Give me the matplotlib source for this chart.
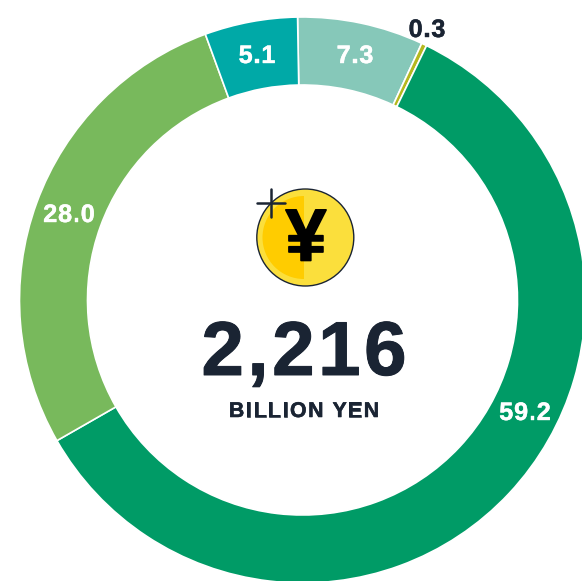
import matplotlib
matplotlib.use("Agg")
import matplotlib.pyplot as plt
import matplotlib.patheffects as pe
from matplotlib.font_manager import FontProperties
from matplotlib.patches import Circle, Wedge
from matplotlib.textpath import text_to_path

shares = [7.2, 0.3, 59.5, 27.7, 5.3]
labels = ["7.3", "0.3", "59.2", "28.0", "5.1"]
colors = ["#86c8b9", "#b5b81e", "#009b66", "#78b95c", "#00a9a7"]
label_xy = [(355, 63), (427, 37), (525, 420), (69, 222), (257, 63)]
label_colors = ["white", "#1a2433", "white", "white", "white"]
total_value = "2,216"
unit = "BILLION YEN"

W, H = 582, 581
FAMILY = "Liberation Sans"
plt.rcParams["font.family"] = [FAMILY, "DejaVu Sans"]
fig = plt.figure(figsize=(W / 100, H / 100), dpi=100)
ax = fig.add_axes([0, 0, 1, 1])
ax.pie(shares, colors=colors, startangle=91, counterclock=False,
       center=(302.5, H - 300), radius=283, normalize=True,
       wedgeprops=dict(width=68, edgecolor="white", linewidth=1.2))
ax.set_xlim(0, W)
ax.set_ylim(0, H)
ax.set_aspect("equal")
ax.axis("off")


def tracked(xc, y, s, size, track, color, stroke=0.0):
    """Draw s centred on xc with extra pixel spacing between characters."""
    prop = FontProperties(family=FAMILY, weight="bold", size=size)
    adv = lambda t: text_to_path.get_text_width_height_descent(t, prop, ismath=False)[0] * 100 / 72
    total = adv(s) + track * (len(s) - 1)
    x0 = xc - total / 2
    for i, ch in enumerate(s):
        if ch != " ":
            t = ax.text(x0 + adv(s[:i]) + track * i, H - y, ch, color=color,
                        fontproperties=prop, ha="left", va="baseline")
            if stroke:
                t.set_path_effects([pe.withStroke(linewidth=stroke, foreground=color)])


for (x, y), t, c in zip(label_xy, labels, label_colors):
    tracked(x, y, t, 18.2, 0.8, c, stroke=0.3)

tracked(304, 375, total_value, 55, 3.5, "#1a2433", stroke=0.7)
tracked(304, 417, unit, 15.3, 1.6, "#1a2433", stroke=0.4)

# coin
cx, cy = 305.3, H - 237.5
ax.add_patch(Circle((cx, cy), 48.5, fc="#fbdf3c", ec="#1a2433", lw=1.0))
ax.add_patch(Wedge((304, cy), 41.5, 90, 270, fc="#ffcc00", ec="none"))
yen = ax.text(306, H - 260.5, "¥", color="black", fontsize=53, fontweight="bold", ha="center", va="baseline")
yen.set_path_effects([pe.withStroke(linewidth=1.2, foreground="black")])
ax.plot([256.5, 285], [H - 203, H - 203], color="#1a2433", lw=1.8, solid_capstyle="round")
ax.plot([270.7, 270.7], [H - 189, H - 217], color="#1a2433", lw=1.8, solid_capstyle="round")

fig.savefig("out.png", dpi=100)
